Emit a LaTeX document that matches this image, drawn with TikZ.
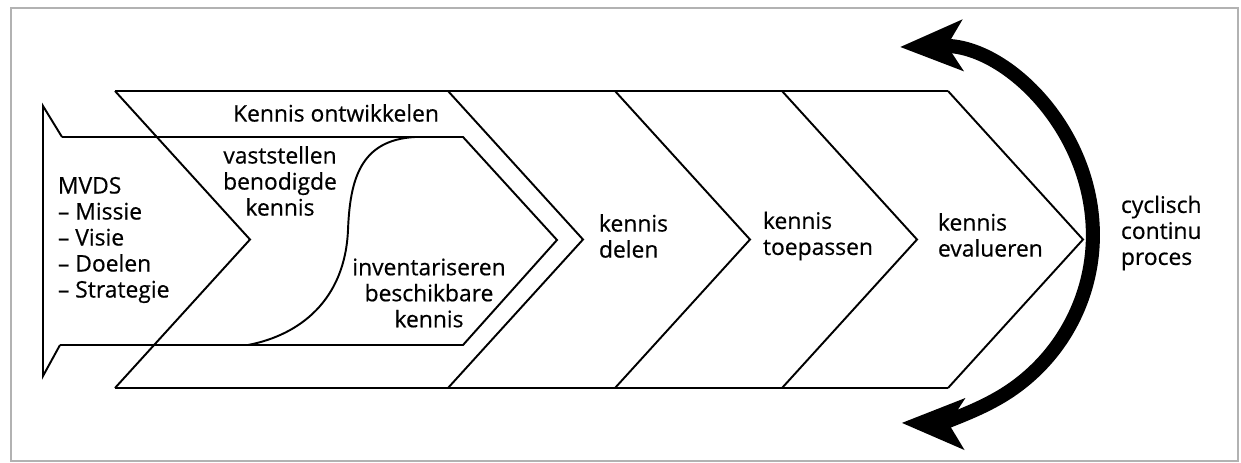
\documentclass[tikz,border=0pt]{standalone}
\usepackage{fontspec}
\setmainfont{Open Sans}[FakeBold=0.5]
\usetikzlibrary{arrows.meta}

\begin{document}
\begin{tikzpicture}[x=0.02cm, y=-0.02cm, line width=1.1pt,
    lbl/.style={inner sep=0pt, font=\fontsize{13}{14.8}\selectfont},
    cyclearrow/.style={line width=8pt,
        {Stealth[length=1.24cm,width=1cm,inset=0.3cm]}-{Stealth[length=1.24cm,width=1cm,inset=0.3cm]}}]
    \useasboundingbox (0,0) rectangle (1241,463);
    % Frame
    \draw[gray!60, line width=1.2pt] (11,8) rectangle (1238,461);

    % MVDS block
    \draw (62,137) -- (43,106) -- (43,376) -- (60,345);
    % Inner block
    \draw (62,137) -- (463,137) -- (557,240) -- (463,345) -- (60,345);
    \draw (415,137) .. controls (360,140) and (350,180) .. (348,230)
        .. controls (345,300) and (300,335) .. (248,345);

    % Chevrons
    \draw (115,91) -- (948,91);
    \draw (115,388) -- (948,388);
    \foreach \x in {115,448,615,782,948}
        \draw (\x,91) -- ++(135,148.5) -- ++(-135,148.5);

    % Labels
    \node[lbl, align=left, anchor=west] (mvds) at (57,240)
        {MVDS\\– Missie\\– Visie\\– Doelen\\– Strategie};
    \node[lbl] (ontwikkelen) at (336,113) {Kennis ontwikkelen};
    \node[lbl, align=center] (vaststellen) at (280,181) {vaststellen\\benodigde\\kennis};
    \node[lbl, align=center] (inventariseren) at (429,293) {inventariseren\\beschikbare\\kennis};
    \node[lbl, align=left, anchor=west] (delen) at (598,236) {kennis\\delen};
    \node[lbl, align=left, anchor=west] (toepassen) at (762,236) {kennis\\toepassen};
    \node[lbl, align=left, anchor=west] (evalueren) at (937,235) {kennis\\evalueren};
    \node[lbl, align=left, anchor=west] (proces) at (1120,233) {cyclisch\\continu\\proces};

    % Cycle
    \draw[cyclearrow] (900,47) arc[start angle=-91.5, end angle=91, radius=188];
\end{tikzpicture}
\end{document}
